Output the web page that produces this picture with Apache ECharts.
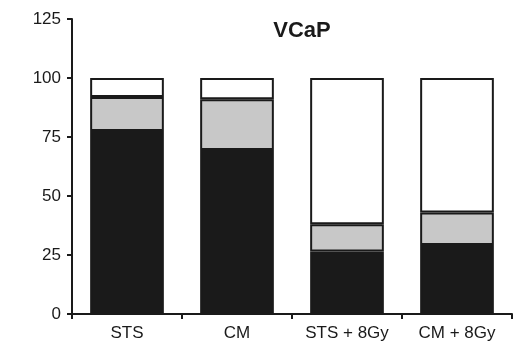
<!DOCTYPE html>
<html><head><meta charset="utf-8">
<script src="https://cdn.jsdelivr.net/npm/echarts@6/dist/echarts.min.js"></script>
<style>html,body{margin:0;padding:0;background:#fff}#c{width:513px;height:347px}</style>
</head><body><div id="c"></div>
<script>
const categories = ['STS', 'CM', 'STS + 8Gy', 'CM + 8Gy'];
const blackValues = [77.5, 69.5, 26.5, 29.2];
const grayValues = [14.5, 21.5, 11.5, 13.8];
const whiteValues = [8, 9, 62, 57];
const yTicks = [0, 25, 50, 75, 100, 125];

const chart = echarts.init(document.getElementById('c'));
const seg = (name, data, color) => ({
  name, type: 'bar', stack: 'all', data, barWidth: '67%',
  itemStyle: { color, borderColor: '#1a1a1a', borderWidth: 2 },
  emphasis: { disabled: true }
});
chart.setOption({
  animation: false,
  title: { text: 'VCaP', left: 297, top: 15, textAlign: 'center',
    textStyle: { fontFamily: 'Liberation Sans, Arial', fontSize: 22, fontWeight: 'bold', color: '#1a1a1a' } },
  grid: { left: 72, right: 1, top: 19, bottom: 33, containLabel: false },
  xAxis: {
    type: 'category', data: categories,
    axisLine: { lineStyle: { color: '#1a1a1a', width: 2 } },
    axisTick: { show: true, length: 5, lineStyle: { color: '#1a1a1a', width: 2 } },
    axisLabel: { color: '#1a1a1a', fontFamily: 'Liberation Sans, Arial', fontSize: 17, margin: 11 }
  },
  yAxis: {
    type: 'value', min: 0, max: 125, interval: 25,
    axisLine: { show: true, lineStyle: { color: '#1a1a1a', width: 2 } },
    axisTick: { show: true, length: 5, lineStyle: { color: '#1a1a1a', width: 2 } },
    splitLine: { show: false },
    axisLabel: { color: '#1a1a1a', fontFamily: 'Liberation Sans, Arial', fontSize: 17, margin: 11,
      formatter: v => yTicks.includes(v) ? String(v) : '' }
  },
  series: [
    seg('black', blackValues, '#1a1a1a'),
    seg('gray', grayValues, '#c8c8c8'),
    seg('white', whiteValues, '#ffffff')
  ]
});
</script></body></html>
